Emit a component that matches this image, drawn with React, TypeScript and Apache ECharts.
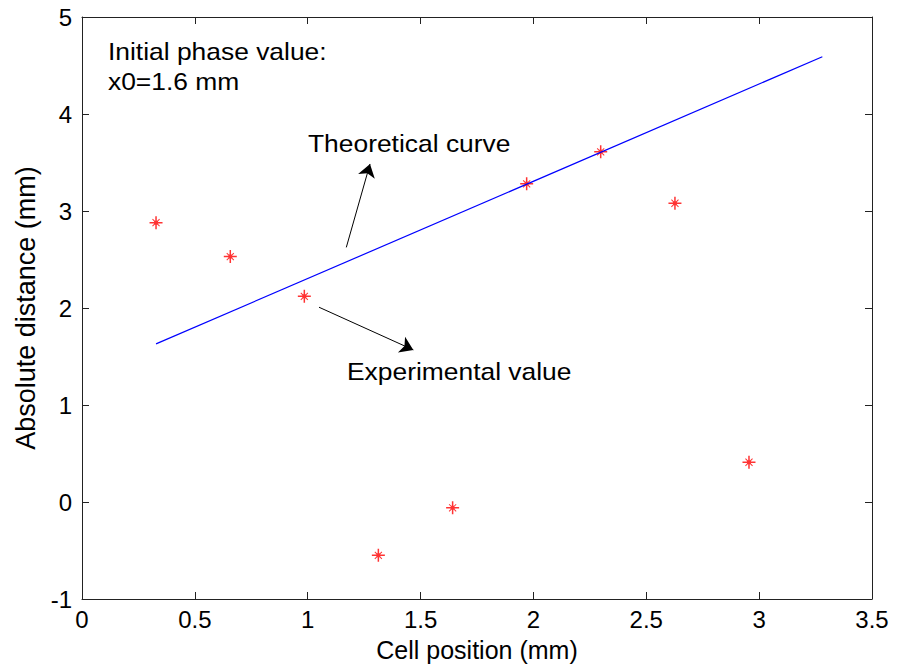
import React, { useEffect, useRef } from "react";
import * as echarts from "echarts";

// Cell positions (mm) of the experimental points
const cellPositions = [0.328, 0.657, 0.985, 1.313, 1.642, 1.97, 2.298, 2.627, 2.955];
// Experimental absolute distances (mm)
const experimentalValues = [2.88, 2.53, 2.12, -0.55, -0.06, 3.28, 3.61, 3.08, 0.41];
// Theoretical curve (straight line) end points
const theoryX = [0.328, 3.28];
const theoryY = [1.63, 4.59];
// Arrow annotations in data coordinates: [fromX, fromY, toX, toY]
const arrowTheory = [1.171, 2.625, 1.276, 3.485];
const arrowExperimental = [1.05, 2.008, 1.468, 1.568];

const FONT = "Arial, 'Liberation Sans', Helvetica, sans-serif";
const STAR =
  "path://M5.75,0h1.5v13h-1.5z M0,5.75h13v1.5h-13z M4.5,4.5h4v4h-4z " +
  "M2.6,3.3L3.3,2.6L10.4,9.7L9.7,10.4Z M3.3,10.4L2.6,9.7L9.7,2.6L10.4,3.3Z";

export default function App() {
  const ref = useRef<HTMLDivElement>(null);
  useEffect(() => {
    document.body.style.margin = "0";
    const chart = echarts.init(ref.current!, null, { renderer: "svg" });
    const axisLine = { show: true, onZero: false, lineStyle: { color: "#222", width: 1 } };
    const axisTick = { show: true, inside: true, length: 7, lineStyle: { color: "#222", width: 1 } };
    const label = { color: "#000", fontSize: 24, fontFamily: FONT };
    const textEl = (text: string, x: number, y: number) => ({
      type: "text",
      x,
      y,
      scaleX: 1.1,
      silent: true,
      style: { text, fill: "#000", font: `24px ${FONT}`, align: "left", verticalAlign: "middle" },
    });
    chart.setOption({
      animation: false,
      grid: { left: 82, right: 32, top: 17, bottom: 64, containLabel: false },
      xAxis: [
        {
          type: "value",
          min: 0,
          max: 3.5,
          interval: 0.5,
          position: "bottom",
          name: "Cell position (mm)",
          nameLocation: "middle",
          nameGap: 38,
          nameTextStyle: { color: "#000", fontSize: 25, fontFamily: FONT },
          axisLine,
          axisTick,
          axisLabel: { ...label, margin: 8 },
          splitLine: { show: false },
        },
        {
          type: "value",
          min: 0,
          max: 3.5,
          interval: 0.5,
          position: "top",
          axisLine,
          axisTick,
          axisLabel: { show: false },
          splitLine: { show: false },
        },
      ],
      yAxis: [
        {
          type: "value",
          min: -1,
          max: 5,
          interval: 1,
          position: "left",
          name: "Absolute distance (mm)",
          nameLocation: "middle",
          nameGap: 42,
          nameTextStyle: { color: "#000", fontSize: 27, fontFamily: FONT },
          axisLine,
          axisTick,
          axisLabel: { ...label, margin: 10 },
          splitLine: { show: false },
        },
        {
          type: "value",
          min: -1,
          max: 5,
          interval: 1,
          position: "right",
          axisLine,
          axisTick,
          axisLabel: { show: false },
          splitLine: { show: false },
        },
      ],
      series: [
        {
          name: "Theoretical curve",
          type: "line",
          xAxisIndex: 0,
          yAxisIndex: 0,
          data: theoryX.map((x, i) => [x, theoryY[i]]),
          symbol: "none",
          lineStyle: { color: "#0000ff", width: 1.2 },
          silent: true,
        },
        {
          name: "Experimental value",
          type: "scatter",
          xAxisIndex: 0,
          yAxisIndex: 0,
          data: cellPositions.map((x, i) => [x, experimentalValues[i]]),
          symbol: STAR,
          symbolSize: 13,
          itemStyle: { color: "#ff0000" },
          silent: true,
          markLine: {
            silent: true,
            symbol: ["none", "arrow"],
            symbolSize: 13,
            label: { show: false },
            lineStyle: { color: "#000", width: 1, type: "solid" },
            emphasis: { disabled: true },
            data: [
              [
                { coord: [arrowTheory[0], arrowTheory[1]] },
                { coord: [arrowTheory[2], arrowTheory[3]] },
              ],
              [
                { coord: [arrowExperimental[0], arrowExperimental[1]] },
                { coord: [arrowExperimental[2], arrowExperimental[3]] },
              ],
            ],
          },
        },
      ],
      graphic: [
        textEl("Initial phase value:", 108, 51),
        textEl("x0=1.6 mm", 108, 81),
        textEl("Theoretical curve", 308, 143),
        textEl("Experimental value", 347, 371),
      ],
    });
    return () => chart.dispose();
  }, []);
  return <div ref={ref} style={{ width: 904, height: 667, background: "#fff" }} />;
}
